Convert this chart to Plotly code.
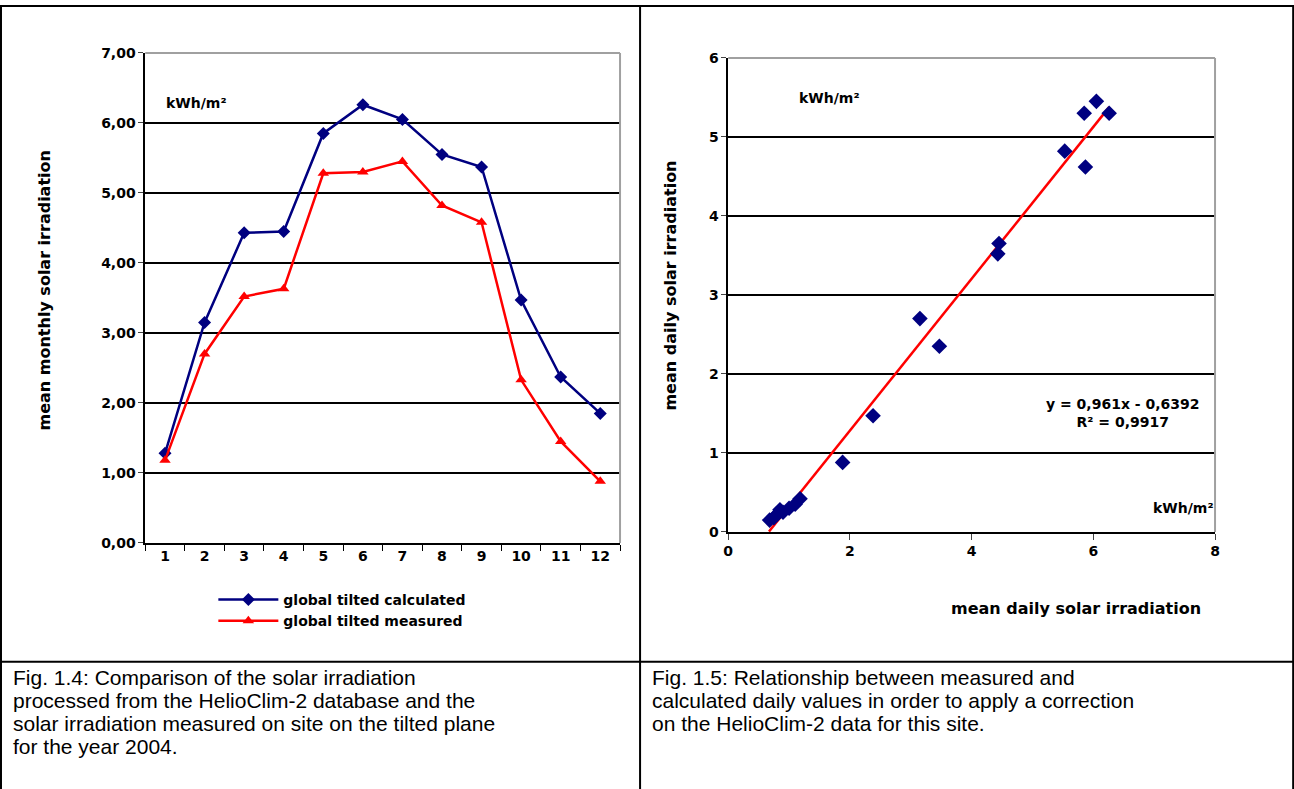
import plotly.graph_objects as go

W, H = 1294, 789

# left chart data
months = list(range(1, 13))
calc = [1.28, 3.15, 4.43, 4.45, 5.85, 6.26, 6.05, 5.55, 5.37, 3.47, 2.37, 1.85]
meas = [1.18, 2.70, 3.52, 3.63, 5.28, 5.30, 5.45, 4.82, 4.58, 2.33, 1.45, 0.88]
left_yticks = [0, 1, 2, 3, 4, 5, 6, 7]
left_ylabels = ["0,00", "1,00", "2,00", "3,00", "4,00", "5,00", "6,00", "7,00"]

# right chart data
sc_x = [0.68, 0.75, 0.80, 0.85, 0.90, 1.00, 1.10, 1.18, 1.88, 2.38, 3.15, 3.47,
        4.43, 4.45, 5.53, 5.85, 5.87, 6.05, 6.26]
sc_y = [0.15, 0.18, 0.22, 0.28, 0.25, 0.30, 0.35, 0.42, 0.88, 1.47, 2.70, 2.35,
        3.52, 3.65, 4.82, 5.30, 4.62, 5.45, 5.30]
slope, intercept = 0.961, -0.6392
trend_x = [0.67, 6.26]

caption_left = ["Fig. 1.4: Comparison of the solar irradiation",
                "processed from the HelioClim-2 database and the",
                "solar irradiation measured on site on the tilted plane",
                "for the year 2004."]
caption_right = ["Fig. 1.5: Relationship between measured and",
                 "calculated daily values in order to apply a correction",
                 "on the HelioClim-2 data for this site."]

# the photographed page comes out slightly shrunk and shifted; compensate
def px(x):
    return ((x - 6) / 0.9906) / W

def py(y):
    return 1 - ((y - 7) / 0.9817) / H

bold = dict(family="DejaVu Sans", size=14, color="black", weight="bold")

fig = go.Figure()
fig.add_trace(go.Scatter(x=months, y=calc, mode="lines+markers", name="global tilted calculated",
                         line=dict(color="#000080", width=2.5),
                         marker=dict(symbol="diamond", size=10, color="#000080"),
                         xaxis="x", yaxis="y"))
fig.add_trace(go.Scatter(x=months, y=meas, mode="lines+markers", name="global tilted measured",
                         line=dict(color="#ff0000", width=2.5),
                         marker=dict(symbol="triangle-up", size=10, color="#ff0000"),
                         xaxis="x", yaxis="y"))
fig.add_trace(go.Scatter(x=trend_x, y=[slope * v + intercept for v in trend_x], mode="lines",
                         line=dict(color="#ff0000", width=2.5), showlegend=False,
                         xaxis="x2", yaxis="y2"))
fig.add_trace(go.Scatter(x=sc_x, y=sc_y, mode="markers", showlegend=False,
                         marker=dict(symbol="diamond", size=12, color="#000080"),
                         xaxis="x2", yaxis="y2"))

ax_common = dict(showline=True, linecolor="black", linewidth=1.5, tickfont=bold,
                 zeroline=False, fixedrange=True)
fig.update_layout(
    width=W, height=H, margin=dict(l=0, r=0, t=0, b=0),
    paper_bgcolor="white", plot_bgcolor="white",
    xaxis=dict(domain=[px(146), px(620)], anchor="y", range=[0.5, 12.5],
               tickvals=months, ticks="", showgrid=False,
               minor=dict(tick0=0.5, dtick=1, ticks="outside", ticklen=6, tickcolor="black", showgrid=False),
               **ax_common),
    yaxis=dict(domain=[py(543), py(52)], anchor="x", range=[0, 7],
               tickvals=left_yticks, ticktext=left_ylabels, ticks="outside", ticklen=5,
               showgrid=True, gridcolor="black", gridwidth=1.5, **ax_common),
    xaxis2=dict(domain=[px(728), px(1214)], anchor="y2", range=[0, 8], dtick=2,
                ticks="outside", ticklen=6, showgrid=False, **ax_common),
    yaxis2=dict(domain=[py(532), py(57)], anchor="x2", range=[0, 6], dtick=1,
                ticks="outside", ticklen=5, showgrid=True, gridcolor="black",
                gridwidth=1.5, **ax_common),
    legend=dict(x=px(214), y=py(584), xanchor="left", yanchor="top",
                font=dict(family="DejaVu Sans", size=14, color="black", weight="bold"),
                tracegroupgap=0, itemwidth=60, bgcolor="rgba(0,0,0,0)"),
)

shapes = []
# gray plot-area borders (top/right)
for xr, yr in (("x domain", "y domain"), ("x2 domain", "y2 domain")):
    shapes.append(dict(type="line", xref=xr, yref=yr, x0=0, x1=1, y0=1, y1=1,
                       line=dict(color="#a0a0a0", width=2)))
    shapes.append(dict(type="line", xref=xr, yref=yr, x0=1, x1=1, y0=0, y1=1,
                       line=dict(color="#a0a0a0", width=2)))
# table frame
tl = dict(color="black", width=2)
shapes += [
    dict(type="line", xref="paper", yref="paper", x0=px(1), x1=px(1293), y0=py(5), y1=py(5), line=tl),
    dict(type="line", xref="paper", yref="paper", x0=px(1), x1=px(1293), y0=py(662), y1=py(662), line=tl),
    dict(type="line", xref="paper", yref="paper", x0=px(2), x1=px(2), y0=py(5), y1=py(800), line=tl),
    dict(type="line", xref="paper", yref="paper", x0=px(640), x1=px(640), y0=py(5), y1=py(800), line=tl),
    dict(type="line", xref="paper", yref="paper", x0=px(1292), x1=px(1292), y0=py(5), y1=py(800), line=tl),
]
fig.update_layout(shapes=shapes)

def note(x, y, text, size=13, xanchor="left", yanchor="middle", angle=0, family="DejaVu Sans", align="left"):
    fig.add_annotation(x=px(x), y=py(y), xref="paper", yref="paper", text=text, showarrow=False,
                       xanchor=xanchor, yanchor=yanchor, textangle=angle, align=align,
                       font=dict(family=family, size=size, color="black"))

note(165, 102, "<b>kWh/m²</b>", size=14)
note(797, 97, "<b>kWh/m²</b>", size=14)
note(1150, 508, "<b>kWh/m²</b>", size=14)
note(1122, 413, "<b>y = 0,961x - 0,6392</b><br><b>R² = 0,9917</b>", size=14, xanchor="center", align="center")
note(45, 290, "<b>mean monthly solar irradiation</b>", size=16, xanchor="center", angle=-90)
note(670, 285, "<b>mean daily solar irradiation</b>", size=16, xanchor="center", angle=-90)
note(1075, 609, "<b>mean daily solar irradiation</b>", size=16, xanchor="center")

for i, line in enumerate(caption_left):
    note(12, 678 + 23 * i, line, size=21, family="Liberation Sans")
for i, line in enumerate(caption_right):
    note(650, 678 + 23 * i, line, size=21, family="Liberation Sans")

fig.write_html("out.html", post_script="document.body.style.margin='0';",
               config={"displayModeBar": False})
